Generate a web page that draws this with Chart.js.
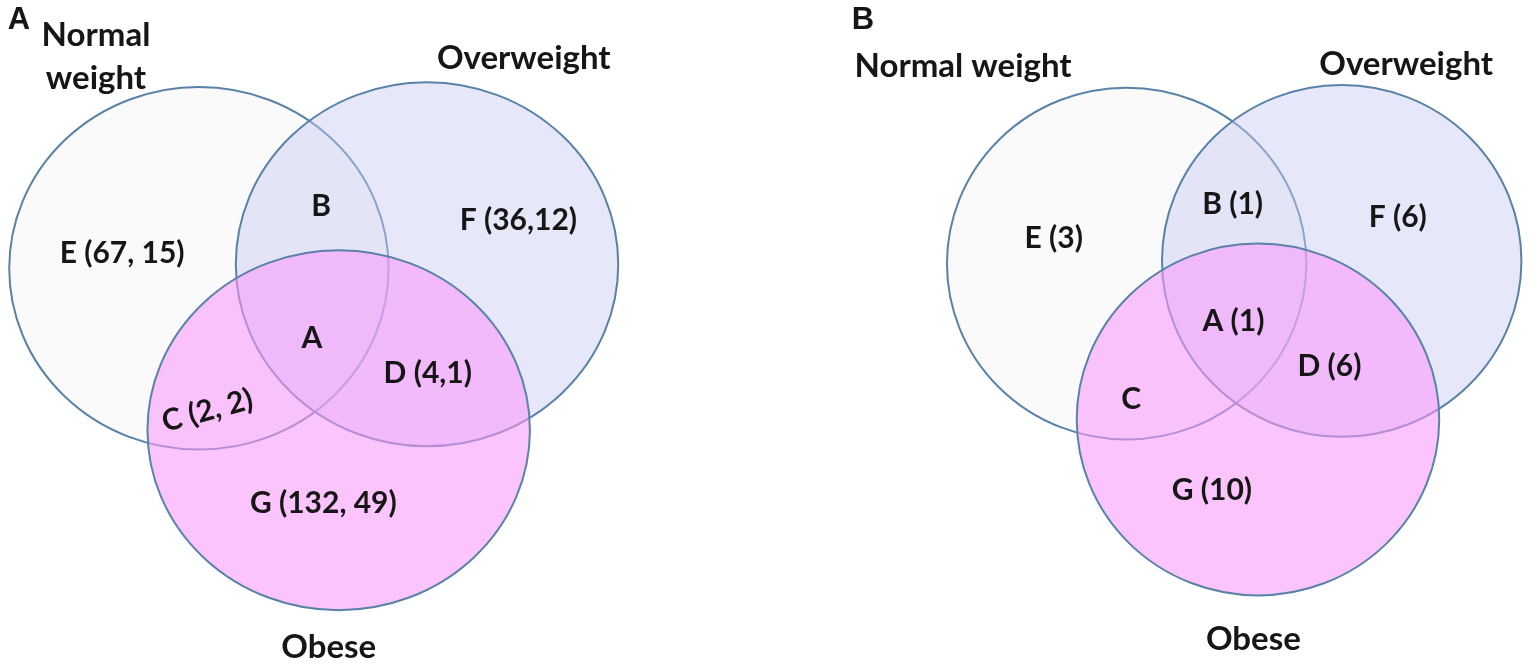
<!DOCTYPE html>
<html>
<head>
<meta charset="utf-8">
<script src="https://cdn.jsdelivr.net/npm/chart.js@4.4.1/dist/chart.umd.min.js"></script>
<style>
    html, body { margin: 0; padding: 0; background: #fff; }
    .wrap { display: flex; width: 1536px; height: 669px; }
    .panel { width: 768px; height: 669px; }
</style>
</head>
<body>
<div class="wrap">
    <div class="panel"><canvas id="panelA" width="768" height="669"></canvas></div>
    <div class="panel"><canvas id="panelB" width="768" height="669"></canvas></div>
</div>
<script>
// ---- data ----
const setNames = ["Normal weight", "Overweight", "Obese"];
const regionLetters = ["A", "B", "C", "D", "E", "F", "G"];

// panel A: two counts per region (empty where the figure shows only the letter)
const countsA1 = [null, null, 2, 4, 67, 36, 132];
const countsA2 = [null, null, 2, 1, 15, 12, 49];

// panel B: one count per region
const countsB = [1, 1, null, 6, 3, 6, 10];

// ---- layout (axis units 0..100 in each panel) ----
const circleXA = [25.9, 55.6, 44.1];
const circleYA = [40.1, 39.5, 64.3];
const circleRXA = [24.7, 24.9, 24.9];
const circleRYA = [27.1, 27.2, 26.9];

const circleXB = [46.7, 74.7, 63.8];
const circleYB = [39.4, 39.0, 62.7];
const circleRXB = [23.4, 23.4, 23.6];
const circleRYB = [26.3, 26.3, 26.3];

const regionXA = [40.6, 41.8, 27.0, 55.7, 15.9, 67.5, 42.1];
const regionYA = [50.5, 30.8, 61.4, 55.8, 37.8, 32.9, 75.2];
const regionRotA = [0, 0, -15, 0, 0, 0, 0];
const regionSepA = ["", "", ", ", ",", ", ", ",", ", "];

const regionXB = [60.6, 60.5, 47.3, 73.1, 37.2, 82.0, 57.8];
const regionYB = [48.0, 30.5, 59.7, 54.7, 35.6, 32.5, 73.3];

const nameXA = [12.5, 68.2, 42.8];
const nameYA = [8.5, 8.7, 96.7];
const nameXB = [25.4, 83.1, 63.2];
const nameYB = [9.9, 9.6, 95.5];

const fills = ["rgba(250, 250, 250, 1)", "rgba(200, 205, 245, 0.45)", "rgba(250, 151, 250, 0.57)"];
const strokeColor = "#5a82a8";
const textColor = "#161616";
const fontFamily = "Lato, 'Open Sans', sans-serif";

function labelA(i) {
    if (countsA1[i] === null)
        return regionLetters[i];
    return `${regionLetters[i]} (${countsA1[i]}${regionSepA[i]}${countsA2[i]})`;
}

function labelB(i) {
    if (countsB[i] === null)
        return regionLetters[i];
    return `${regionLetters[i]} (${countsB[i]})`;
}

const vennPlugin = {
    id: "venn",
    beforeDatasetsDraw(chart) {
        const ctx = chart.ctx;
        const xs = chart.scales.x;
        const ys = chart.scales.y;
        const ds = chart.data.datasets[0];
        const meta = chart.getDatasetMeta(0);

        meta.data.forEach((el, i) => {
            const p = ds.data[i];
            const rx = Math.abs(xs.getPixelForValue(p.x + p.rx) - el.x);
            const ry = Math.abs(ys.getPixelForValue(p.y + p.ry) - el.y);
            ctx.save();
            ctx.beginPath();
            ctx.ellipse(el.x, el.y, rx, ry, 0, 0, Math.PI * 2);
            ctx.fillStyle = ds.fills[i];
            ctx.fill();
            ctx.lineWidth = 2;
            ctx.strokeStyle = strokeColor;
            ctx.stroke();
            ctx.restore();
        });
    },
    afterDatasetsDraw(chart) {
        const ctx = chart.ctx;
        for (let d = 1; d < chart.data.datasets.length; d++) {
            const ds = chart.data.datasets[d];
            const meta = chart.getDatasetMeta(d);
            meta.data.forEach((el, i) => {
                const p = ds.data[i];
                ctx.save();
                ctx.translate(el.x, el.y);
                ctx.rotate((p.rot || 0) * Math.PI / 180);
                ctx.fillStyle = textColor;
                ctx.font = `bold ${ds.fontSize}px ${ds.family || fontFamily}`;
                ctx.textAlign = ds.align || "center";
                ctx.textBaseline = "middle";
                const lines = p.text.split("\n");
                const lh = ds.fontSize * 1.28;
                lines.forEach((line, k) => {
                    ctx.fillText(line, 0, (k - (lines.length - 1) / 2) * lh);
                });
                ctx.restore();
            });
        }
    }
};

function makePanel(canvasId, letter, letterX, cx, cy, crx, cry, rx, ry, rot, labelFn, nx, ny, wrapFirst) {
    const circles = cx.map((x, i) => ({ x: x, y: cy[i], rx: crx[i], ry: cry[i] }));
    const regions = regionLetters.map((_, i) => ({ x: rx[i], y: ry[i], rot: rot ? rot[i] : 0, text: labelFn(i) }));
    const names = setNames.map((n, i) => ({
        x: nx[i], y: ny[i],
        text: (wrapFirst && i === 0) ? n.replace(" ", "\n") : n
    }));

    return new Chart(document.getElementById(canvasId), {
        type: "scatter",
        data: {
            datasets: [
                { data: circles, fills: fills, pointRadius: 0 },
                { data: regions, fontSize: 30, pointRadius: 0 },
                { data: names, fontSize: 33, pointRadius: 0 },
                { data: [{ x: letterX, y: 3.0, text: letter }], fontSize: 31, align: "left",
                  family: "'Liberation Sans', Arial, sans-serif", pointRadius: 0 }
            ]
        },
        options: {
            responsive: false,
            animation: false,
            layout: { padding: 0 },
            plugins: {
                legend: { display: false },
                tooltip: { enabled: false }
            },
            scales: {
                x: { type: "linear", min: 0, max: 100, display: false },
                y: { type: "linear", min: 0, max: 100, reverse: true, display: false }
            }
        },
        plugins: [vennPlugin]
    });
}

function init() {
    makePanel("panelA", "A", 1.0, circleXA, circleYA, circleRXA, circleRYA,
        regionXA, regionYA, regionRotA, labelA, nameXA, nameYA, true);
    makePanel("panelB", "B", 10.9, circleXB, circleYB, circleRXB, circleRYB,
        regionXB, regionYB, null, labelB, nameXB, nameYB, false);
}

if (document.fonts && document.fonts.load) {
    Promise.all([
        document.fonts.load("bold 30px Lato"),
        document.fonts.load("bold 28px 'Liberation Sans'")
    ]).then(init, init);
} else {
    init();
}
</script>
</body>
</html>
